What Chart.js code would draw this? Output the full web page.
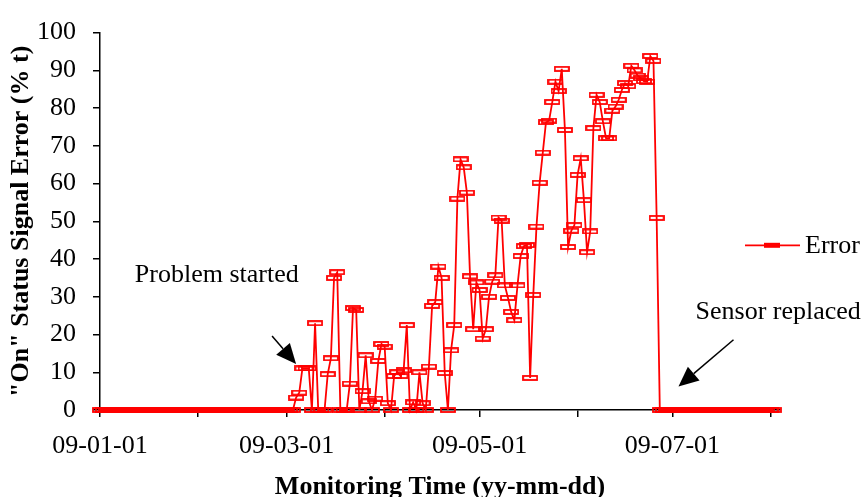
<!DOCTYPE html>
<html>
<head>
<meta charset="utf-8">
<script src="https://cdn.jsdelivr.net/npm/chart.js@4.4.1/dist/chart.umd.min.js"></script>
<style>
  html, body { margin: 0; padding: 0; background: #fff; overflow: hidden; }
  #wrap { width: 864px; height: 506px; }
</style>
</head>
<body>
<div id="wrap"><canvas id="chart" width="864" height="506"></canvas></div>
<script>
// daily readings, first value is 09-01-01
const errorPct = [
  0, 0, 0, 0, 0, 0, 0, 0, 0, 0, 0, 0, 0, 0, 0, 0, 0, 0, 0, 0,
  0, 0, 0, 0, 0, 0, 0, 0, 0, 0, 0, 0, 0, 0, 0, 0, 0, 0, 0, 0,
  0, 0, 0, 0, 0, 0, 0, 0, 0, 0, 0, 0, 0, 0, 0, 0, 0, 0, 0, 0,
  0, 0,
  3.3, 4.6, 11, 11, 11, 0, 23, 0, 0, 0, 9.5, 13.7, 35, 36.5, 0,
  0, 0, 7, 27, 26.5, 0, 5, 14.5, 2.3, 0, 3, 13, 17.5, 16.8, 1.8, 0, 9, 10,
  9, 10.5, 22.5, 0, 2, 0, 10, 1.8, 0, 11.5, 27.6, 28.6, 38, 35, 9.8, 0, 15.8, 22.5, 56, 66.4,
  64.3, 57.6, 35.4, 21.4, 33.8, 31.8, 18.9, 21.4, 30, 34, 35.7, 51, 50.2, 33, 29.7, 26, 23.8,
  33, 40.8, 43.4, 43.7, 8.5, 30.5, 48.6, 60.2, 68.2, 76.2, 76.7, 81.6, 87, 84.5, 90.4, 74.2,
  43.2, 47.5, 49, 62.3, 66.7, 55.6, 41.8, 47.3, 74.7, 83.5, 81.6, 76.5, 72, 72, 79.3, 80.4, 82.2, 84.8, 86.6,
  85.8, 91.2, 90, 88.6, 87.9, 87.1, 87, 93.8, 92.5, 50.9, 0,
  0, 0, 0, 0, 0, 0, 0, 0, 0, 0, 0, 0, 0, 0, 0, 0, 0, 0, 0, 0,
  0, 0, 0, 0, 0, 0, 0, 0, 0, 0, 0, 0, 0, 0, 0, 0
]

// day offsets of month starts (Jan..Aug 2009) and their labels
const monthStarts = [0, 31, 59, 90, 120, 151, 181, 212]
const tickLabels = ["09-01-01", "", "09-03-01", "", "09-05-01", "", "09-07-01", ""]

const seriesName = "Error"
const notes = [
  { text: "Problem started", at: [11, 35.7], from: [54.4, 19.6], to: [62, 12.2] },
  { text: "Sensor replaced", at: [188.3, 25.8], from: [200.3, 18.6], to: [182.9, 6.2] }
]

const serif = "'Liberation Serif', 'Times New Roman', serif"
const red = "#ff0000"

// hollow dash marker
const mark = document.createElement("canvas")
mark.width = 16
mark.height = 6
const mctx = mark.getContext("2d")
mctx.strokeStyle = red
mctx.lineWidth = 1.8
mctx.strokeRect(1, 1, 14, 4)

const extras = {
  id: "extras",
  afterDraw(chart) {
    const ctx = chart.ctx
    const xs = chart.scales.x
    const ys = chart.scales.y
    ctx.save()

    // notes with arrows
    ctx.fillStyle = "#000"
    ctx.strokeStyle = "#000"
    ctx.font = "26px " + serif
    ctx.textBaseline = "middle"
    ctx.textAlign = "left"
    notes.forEach(n => {
      ctx.fillText(n.text, xs.getPixelForValue(n.at[0]), ys.getPixelForValue(n.at[1]))
      const x1 = xs.getPixelForValue(n.from[0]), y1 = ys.getPixelForValue(n.from[1])
      const x2 = xs.getPixelForValue(n.to[0]), y2 = ys.getPixelForValue(n.to[1])
      const ang = Math.atan2(y2 - y1, x2 - x1)
      const head = 20, half = 9
      const bx = x2 - head * Math.cos(ang), by = y2 - head * Math.sin(ang)
      ctx.lineWidth = 1.5
      ctx.beginPath()
      ctx.moveTo(x1, y1)
      ctx.lineTo(bx, by)
      ctx.stroke()
      ctx.beginPath()
      ctx.moveTo(x2, y2)
      ctx.lineTo(bx + half * Math.sin(ang), by - half * Math.cos(ang))
      ctx.lineTo(bx - half * Math.sin(ang), by + half * Math.cos(ang))
      ctx.closePath()
      ctx.fill()
    })

    // legend on the right
    const ly = (chart.chartArea.top + chart.chartArea.bottom) / 2 + 24
    const lx = chart.chartArea.right - 35
    ctx.strokeStyle = red
    ctx.lineWidth = 1.8
    ctx.beginPath()
    ctx.moveTo(lx, ly)
    ctx.lineTo(lx + 55, ly)
    ctx.stroke()
    ctx.fillStyle = red
    ctx.fillRect(lx + 19, ly - 2.5, 16, 5)
    ctx.fillStyle = "#000"
    ctx.font = "26px " + serif
    ctx.fillText(seriesName, lx + 60, ly + 1)
    ctx.restore()
  }
}

new Chart(document.getElementById("chart"), {
  type: "line",
  data: {
    datasets: [
      {
        label: seriesName,
        data: errorPct.map((v, i) => ({ x: i, y: v })),
        borderColor: red,
        borderWidth: 1.8,
        tension: 0,
        clip: false,
        pointStyle: mark,
        pointRadius: 7,
        pointHoverRadius: 7
      }
    ]
  },
  options: {
    responsive: false,
    animation: false,
    events: [],
    layout: { padding: { top: 0, right: 84, left: 4, bottom: 3 } },
    scales: {
      x: {
        type: "linear",
        min: 0,
        max: 215,
        afterBuildTicks: scale => {
          scale.ticks = monthStarts.map(v => ({ value: v }))
        },
        afterFit: scale => { scale.height = 93 },
        ticks: {
          autoSkip: false,
          maxRotation: 0,
          padding: 14,
          color: "#000",
          font: { family: serif, size: 26 },
          callback: value => tickLabels[monthStarts.indexOf(value)] || ""
        },
        grid: { drawOnChartArea: false, drawTicks: true, tickLength: 7, color: "#000", lineWidth: 1.5 },
        border: { color: "#000", width: 1.5 },
        title: {
          display: true,
          text: "Monitoring Time (yy-mm-dd)",
          color: "#000",
          font: { family: serif, size: 26, weight: "bold" },
          padding: { top: 9, bottom: 0 }
        }
      },
      y: {
        min: 0,
        max: 100,
        afterFit: scale => { scale.width = 96 },
        ticks: {
          stepSize: 10,
          padding: 17,
          color: "#000",
          font: { family: serif, size: 26 }
        },
        grid: { drawOnChartArea: false, drawTicks: true, tickLength: 7, color: "#000", lineWidth: 1.5 },
        border: { color: "#000", width: 1.5 },
        title: {
          display: true,
          text: "\"On\" Status Signal Error (% t)",
          color: "#000",
          font: { family: serif, size: 26, weight: "bold" },
          padding: { top: 2, bottom: 0 }
        }
      }
    },
    plugins: {
      legend: { display: false },
      tooltip: { enabled: false }
    }
  },
  plugins: [extras]
})
</script>
</body>
</html>
